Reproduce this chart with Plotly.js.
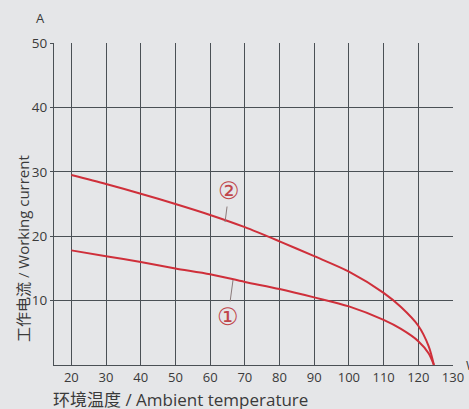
<!DOCTYPE html>
<html><head><meta charset="utf-8">
<script src="https://cdn.plot.ly/plotly-3.0.1.min.js"></script>
<style>html,body{margin:0;padding:0;background:#e5e6e8;}#c{width:469px;height:409px;}</style>
</head><body><div id="c"></div>
<script>
const temps = [20,30,40,50,60,70,80,90,100,110,115,120,123,124.5];
const current1 = [17.8,16.9,16.0,15.0,14.1,12.9,11.8,10.5,9.1,7.0,5.6,3.7,1.8,0];
const current2 = [29.5,28.1,26.6,25.0,23.3,21.4,19.2,16.9,14.5,11.2,9.0,6.1,2.9,0];
const xTicks = [20,30,40,50,60,70,80,90,100,110,120,130];
const yTicks = [10,20,30,40,50];
const labels = ['①','②'];

const lineStyle = {color:'#cf2f3a', width:2, shape:'spline', smoothing:0.8};
const data = [
  {x:temps, y:current1, mode:'lines', line:lineStyle, hoverinfo:'skip'},
  {x:temps, y:current2, mode:'lines', line:lineStyle, hoverinfo:'skip'}
];
const grid = '#4a5055';
const font = {family:'"Open Sans", "Noto Sans CJK SC", sans-serif', color:'#3a3a3a', size:13};
const layout = {
  width:469, height:409,
  margin:{l:54, r:16, t:43, b:44},
  paper_bgcolor:'#e5e6e8', plot_bgcolor:'#e5e6e8',
  showlegend:false,
  font:font,
  xaxis:{range:[15,130], tickvals:xTicks, ticktext:xTicks.map(String), showgrid:true, gridcolor:grid, gridwidth:1,
         showline:true, linecolor:grid, linewidth:1, zeroline:false, ticks:'', ticklen:0, tickfont:{size:13,color:'#3a3a3a'}},
  yaxis:{range:[0,50], tickvals:yTicks, ticktext:yTicks.map(String), showgrid:true, gridcolor:grid, gridwidth:1,
         showline:true, linecolor:grid, linewidth:1, zeroline:false, ticks:'outside', ticklen:3, tickcolor:grid, tickfont:{size:13.5,color:'#3a3a3a'}},
  annotations:[
    {x:66.6, y:13.2, xref:'x', yref:'y', text:labels[0], showarrow:true, arrowhead:0, arrowwidth:1, arrowcolor:'#8a7a7a',
     ax:-5, ay:37, font:{size:24, color:'#c0464c', family:'"DejaVu Sans", sans-serif'}},
    {x:64.3, y:22.2, xref:'x', yref:'y', text:labels[1], showarrow:true, arrowhead:0, arrowwidth:1, arrowcolor:'#8a7a7a',
     ax:4, ay:-31, font:{size:24, color:'#c0464c', family:'"DejaVu Sans", sans-serif'}},
    {xref:'paper', yref:'paper', x:0, xshift:-7, y:1.0, yshift:25, xanchor:'right', yanchor:'middle', text:'A', showarrow:false, font:{size:13,color:'#3a3a3a'}},
    {xref:'paper', yref:'paper', x:0, xshift:-31, y:0.5, yshift:-45, xanchor:'center', yanchor:'middle', textangle:-90,
     text:'工作电流 / Working current', showarrow:false, font:{size:15,color:'#3a3a3a'}},
    {xref:'paper', yref:'paper', x:0, xshift:-3, y:0, yshift:-34, xanchor:'left', yanchor:'middle',
     text:'环境温度 / Ambient temperature', showarrow:false, font:{size:17,color:'#3a3a3a'}},
    {xref:'paper', yref:'paper', x:1, xshift:11, y:0, yshift:0, xanchor:'left', yanchor:'middle',
     text:'W', showarrow:false, font:{size:13,color:'#3a3a3a'}}
  ]
};
Plotly.newPlot('c', data, layout, {displayModeBar:false, staticPlot:true});
</script></body></html>
